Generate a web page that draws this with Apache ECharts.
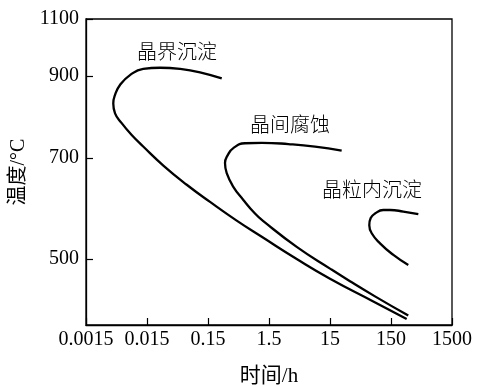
<!DOCTYPE html>
<html>
<head>
<meta charset="utf-8">
<script src="https://cdn.jsdelivr.net/npm/echarts@6/dist/echarts.min.js"></script>
<style>html,body{margin:0;padding:0;background:#fff;}#c{width:481px;height:387px;}</style>
</head>
<body>
<div id="c"></div>
<script>
// ---- data ----
const xTickLabels = ['0.0015', '0.015', '0.15', '1.5', '15', '150', '1500'];
const yTickLabels = [500, 700, 900, 1100];

// 晶界沉淀 curve: time (h), temperature (°C)
const gbTime = [0.252, 0.111, 0.0521, 0.0245, 0.0130, 0.00789, 0.00541, 0.00449, 0.00420, 0.00449, 0.00577, 0.00842, 0.0130, 0.0278, 0.0672, 0.162, 0.443, 1.21, 4.27, 15.0, 76.9, 271];
const gbTemp = [894, 913, 925, 929, 925, 903, 878, 854, 833, 809, 785, 756, 728, 685, 647, 613, 576, 542, 500, 461, 416, 381];

// 晶间腐蚀 curve
const icTime = [23.3, 8.51, 3.11, 1.14, 0.606, 0.390, 0.316, 0.285, 0.304, 0.390, 0.569, 0.884, 1.21, 4.27, 15.0, 31.9, 82.0, 288];
const icTemp = [718, 728, 734, 737, 736, 724, 707, 690, 670, 643, 617, 590, 575, 524, 481, 456, 426, 388];

// 晶粒内沉淀 curve
const igTime = [421, 239, 145, 112, 82.0, 69.7, 66.1, 72.4, 99.1, 164, 288];
const igTemp = [589, 594, 597, 597, 590, 581, 567, 551, 531, 508, 488];

const curveNames = ['晶界沉淀', '晶间腐蚀', '晶粒内沉淀'];

// ---- scales ----
const xBase = 0.0015;
function timeToX(t) { return Math.log10(t / xBase); }
// temperature axis of the original is non-uniform: piecewise-linear between tick temperatures
const yKnotPos = [66, 167, 249, 306];
function tempToY(T) {
  const k = yTickLabels, p = yKnotPos;
  if (T <= k[0]) return p[0] - (k[0] - T) * (p[1] - p[0]) / (k[1] - k[0]);
  for (let i = 0; i < k.length - 1; i++) {
    if (T <= k[i + 1]) return p[i] + (T - k[i]) * (p[i + 1] - p[i]) / (k[i + 1] - k[i]);
  }
  const n = k.length - 1;
  return p[n] + (T - k[n]) * (p[n] - p[n - 1]) / (k[n] - k[n - 1]);
}
function series(times, temps) {
  return times.map((t, i) => [timeToX(t), tempToY(temps[i])]);
}
const yTickPos = yTickLabels.map(tempToY);

const serif = '"Liberation Serif", "Noto Sans CJK SC", serif';
const lineStyle = { color: '#000', width: 2.3 };

const chart = echarts.init(document.getElementById('c'), null, { renderer: 'canvas' });
chart.setOption({
  animation: false,
  backgroundColor: '#fff',
  grid: { left: 86, right: 29, top: 19, bottom: 62, containLabel: false, outerBoundsMode: 'none',
    show: true, borderColor: '#000', borderWidth: 1.3, backgroundColor: 'transparent' },
  xAxis: {
    type: 'value', min: 0, max: 6, interval: 1,
    name: '时间/h', nameLocation: 'middle', nameGap: 41,
    nameTextStyle: { color: '#000', fontSize: 21, fontFamily: serif },
    axisLine: { show: true, lineStyle: { color: '#000', width: 1.3 } },
    axisTick: { show: true, inside: true, length: 7, lineStyle: { color: '#000', width: 1.2 } },
    axisLabel: { color: '#000', fontSize: 20, fontFamily: serif, margin: 5,
      formatter: v => xTickLabels[Math.round(v)] },
    splitLine: { show: false }
  },
  yAxis: {
    type: 'value', min: 0, max: 306,
    name: '温度/°C', nameLocation: 'middle', nameGap: 43, nameRotate: 90,
    nameTextStyle: { color: '#000', fontSize: 20, fontFamily: serif },
    axisLine: { show: true, lineStyle: { color: '#000', width: 1.3 } },
    axisTick: { show: true, inside: true, length: 7, customValues: yTickPos, lineStyle: { color: '#000', width: 1.2 } },
    axisLabel: { color: '#000', fontSize: 20, fontFamily: serif, margin: 7, customValues: yTickPos,
      formatter: v => {
        let best = 0;
        yTickPos.forEach((p, i) => { if (Math.abs(p - v) < Math.abs(yTickPos[best] - v)) best = i; });
        return String(yTickLabels[best]);
      } },
    splitLine: { show: false }
  },
  series: [
    { name: curveNames[0], type: 'line', data: series(gbTime, gbTemp), smooth: 0.5, symbol: 'none', lineStyle },
    { name: curveNames[1], type: 'line', data: series(icTime, icTemp), smooth: 0.5, symbol: 'none', lineStyle },
    { name: curveNames[2], type: 'line', data: series(igTime, igTemp), smooth: 0.5, symbol: 'none', lineStyle }
  ],
  graphic: [
    { type: 'text', left: 137, top: 41, style: { text: curveNames[0], fill: '#000', font: '300 20px "Noto Sans CJK SC"' } },
    { type: 'text', left: 250, top: 114, style: { text: curveNames[1], fill: '#000', font: '300 20px "Noto Sans CJK SC"' } },
    { type: 'text', left: 322, top: 179, style: { text: curveNames[2], fill: '#000', font: '300 20px "Noto Sans CJK SC"' } }
  ]
});
</script>
</body>
</html>
